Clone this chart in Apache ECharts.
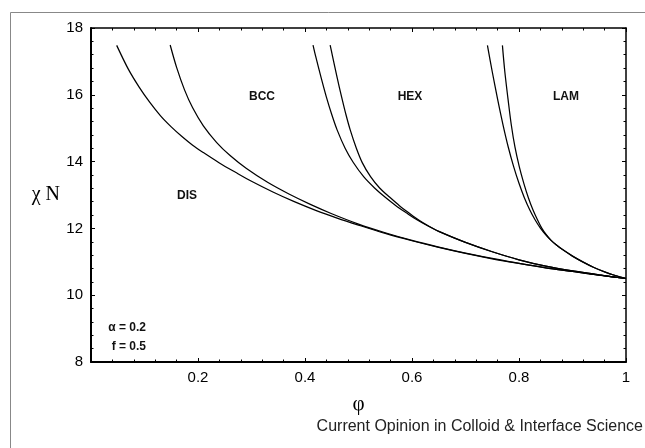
<!DOCTYPE html>
<html>
<head>
<meta charset="utf-8">
<script src="https://cdn.jsdelivr.net/npm/echarts@6/dist/echarts.min.js"></script>
<style>
  html, body { margin: 0; padding: 0; background: #fff; }
  #chart { width: 645px; height: 448px; }
</style>
</head>
<body>
<div id="chart"></div>
<script>
'use strict';

// φ (copolymer fraction) vs χN
var disBoundary = [
  [0.048, 17.48], [0.07, 16.76], [0.09, 16.23], [0.11, 15.77], [0.13, 15.37], [0.15, 15.04],
  [0.17, 14.75], [0.19, 14.49], [0.21, 14.27], [0.24, 13.96], [0.27, 13.68], [0.30, 13.41],
  [0.34, 13.09], [0.38, 12.80], [0.42, 12.54], [0.46, 12.31], [0.50, 12.10], [0.55, 11.85],
  [0.60, 11.63], [0.65, 11.43], [0.70, 11.25], [0.75, 11.09], [0.80, 10.95], [0.85, 10.82],
  [0.90, 10.71], [0.95, 10.60], [1.0, 10.5]
];
var bccBoundary = [
  [0.148, 17.49], [0.16, 16.82], [0.175, 16.14], [0.19, 15.61], [0.21, 15.07], [0.235, 14.57],
  [0.26, 14.18], [0.29, 13.80], [0.33, 13.38], [0.37, 13.03], [0.41, 12.72], [0.45, 12.44],
  [0.50, 12.13], [0.55, 11.87], [0.60, 11.64], [0.65, 11.44], [0.70, 11.26], [0.75, 11.10],
  [0.80, 10.95], [0.85, 10.82], [0.90, 10.71], [0.95, 10.60], [1.0, 10.5]
];
var hexLeft = [
  [0.415, 17.49], [0.42, 17.15], [0.43, 16.52], [0.44, 15.93], [0.45, 15.41], [0.46, 14.95],
  [0.475, 14.40], [0.49, 13.98], [0.51, 13.54], [0.53, 13.21], [0.55, 12.93], [0.57, 12.68],
  [0.59, 12.46], [0.61, 12.25], [0.63, 12.07], [0.65, 11.91], [0.70, 11.58], [0.75, 11.30],
  [0.80, 11.06], [0.85, 10.87], [0.90, 10.725], [0.95, 10.605], [1.0, 10.5]
];
var hexRight = [
  [0.447, 17.49], [0.4515, 17.15], [0.46, 16.52], [0.4685, 15.93], [0.4765, 15.41], [0.4845, 14.95],
  [0.496, 14.40], [0.507, 13.97], [0.5225, 13.55], [0.5395, 13.21], [0.5585, 12.93], [0.5765, 12.68],
  [0.5945, 12.46], [0.6125, 12.25], [0.631, 12.07], [0.65, 11.91], [0.70, 11.58], [0.75, 11.30],
  [0.80, 11.06], [0.85, 10.87], [0.90, 10.725], [0.95, 10.605], [1.0, 10.5]
];
var lamLeft = [
  [0.741, 17.48], [0.75, 16.69], [0.76, 15.87], [0.77, 15.11], [0.78, 14.43], [0.79, 13.85],
  [0.80, 13.35], [0.81, 12.92], [0.82, 12.56], [0.83, 12.26], [0.84, 12.01], [0.85, 11.81],
  [0.86, 11.64], [0.87, 11.50], [0.88, 11.38], [0.90, 11.17], [0.92, 10.99], [0.94, 10.83],
  [0.96, 10.70], [0.98, 10.59], [1.0, 10.5]
];
var lamRight = [
  [0.769, 17.48], [0.7735, 16.69], [0.7795, 15.87], [0.7855, 15.11], [0.7925, 14.43], [0.8005, 13.85],
  [0.809, 13.35], [0.8175, 12.92], [0.826, 12.56], [0.8345, 12.26], [0.8425, 12.01], [0.851, 11.81],
  [0.86, 11.64], [0.87, 11.50], [0.88, 11.38], [0.90, 11.17], [0.92, 10.99], [0.94, 10.83],
  [0.96, 10.70], [0.98, 10.59], [1.0, 10.5]
];

var phiTicks = [0, 1, 0.2];   // min, max, interval
var chiTicks = [8, 18, 2];

var chart = echarts.init(document.getElementById('chart'));

function curve(name, data) {
  return {
    name: name,
    type: 'line',
    data: data,
    showSymbol: false,
    smooth: 0.3,
    silent: true,
    lineStyle: { color: '#000', width: 1.25 }
  };
}

// box axes: ticks inside, labels only on left and bottom
function frameAxis(pos, range, withLabel, width) {
  return {
    type: 'value',
    position: pos,
    min: range[0],
    max: range[1],
    interval: range[2],
    axisLine: { show: true, onZero: false, lineStyle: { color: '#000', width: width } },
    axisTick: { show: true, inside: true, length: 4, lineStyle: { color: '#000', width: 1 } },
    minorTick: { show: true, splitNumber: 5, length: 2.5, lineStyle: { color: '#000', width: 1 } },
    splitLine: { show: false },
    minorSplitLine: { show: false },
    axisLabel: { show: withLabel }
  };
}

var xBottom = frameAxis('bottom', phiTicks, true, 2);
xBottom.axisLabel = {
  show: true, showMinLabel: false, fontSize: 15, margin: 8, color: '#000',
  fontFamily: 'Liberation Sans'
};
xBottom.name = 'φ';
xBottom.nameLocation = 'middle';
xBottom.nameGap = 32;
xBottom.nameTextStyle = { fontFamily: 'Liberation Serif', fontSize: 21, color: '#000' };

var yLeft = frameAxis('left', chiTicks, true, 2);
yLeft.axisLabel = {
  show: true, fontSize: 15, margin: 8, color: '#000', fontFamily: 'Liberation Sans'
};
yLeft.name = 'χ N';
yLeft.nameLocation = 'middle';
yLeft.nameRotate = 0;
yLeft.nameGap = 31;
yLeft.nameTextStyle = { fontFamily: 'Liberation Serif', fontSize: 20, color: '#000' };

var tagFont = 'bold 12px "Liberation Sans"';
var noteFont = 'bold 12px "Liberation Sans"';

var option = {
  animation: false,
  backgroundColor: '#fff',
  grid: { left: 91, top: 28, width: 535, height: 334, containLabel: false },
  xAxis: [xBottom, frameAxis('top', phiTicks, false, 1.5)],
  yAxis: [yLeft, frameAxis('right', chiTicks, false, 1.5)],
  graphic: [
    { type: 'rect', shape: { x: 10.5, y: 12.5, width: 700, height: 500 },
      style: { fill: 'none', stroke: '#888', lineWidth: 1 }, silent: true },
    { type: 'text', x: 262, y: 97, style: { text: 'BCC', font: tagFont, fill: '#111', align: 'center', verticalAlign: 'middle' } },
    { type: 'text', x: 410, y: 97, style: { text: 'HEX', font: tagFont, fill: '#111', align: 'center', verticalAlign: 'middle' } },
    { type: 'text', x: 566, y: 97, style: { text: 'LAM', font: tagFont, fill: '#111', align: 'center', verticalAlign: 'middle' } },
    { type: 'text', x: 187, y: 196, style: { text: 'DIS', font: tagFont, fill: '#111', align: 'center', verticalAlign: 'middle' } },
    { type: 'text', x: 146, y: 328, style: { text: 'α = 0.2', font: noteFont, fill: '#111', align: 'right', verticalAlign: 'middle' } },
    { type: 'text', x: 146, y: 347, style: { text: 'f = 0.5', font: noteFont, fill: '#111', align: 'right', verticalAlign: 'middle' } },
    { type: 'text', x: 643, y: 427, style: { text: 'Current Opinion in Colloid & Interface Science', font: '16px "Liberation Sans"', fill: '#222', align: 'right', verticalAlign: 'middle' } }
  ],
  series: [
    curve('DIS', disBoundary),
    curve('BCC', bccBoundary),
    curve('HEX left', hexLeft),
    curve('HEX right', hexRight),
    curve('LAM left', lamLeft),
    curve('LAM right', lamRight)
  ]
};

chart.setOption(option);
window.onresize = chart.resize;
</script>
</body>
</html>
